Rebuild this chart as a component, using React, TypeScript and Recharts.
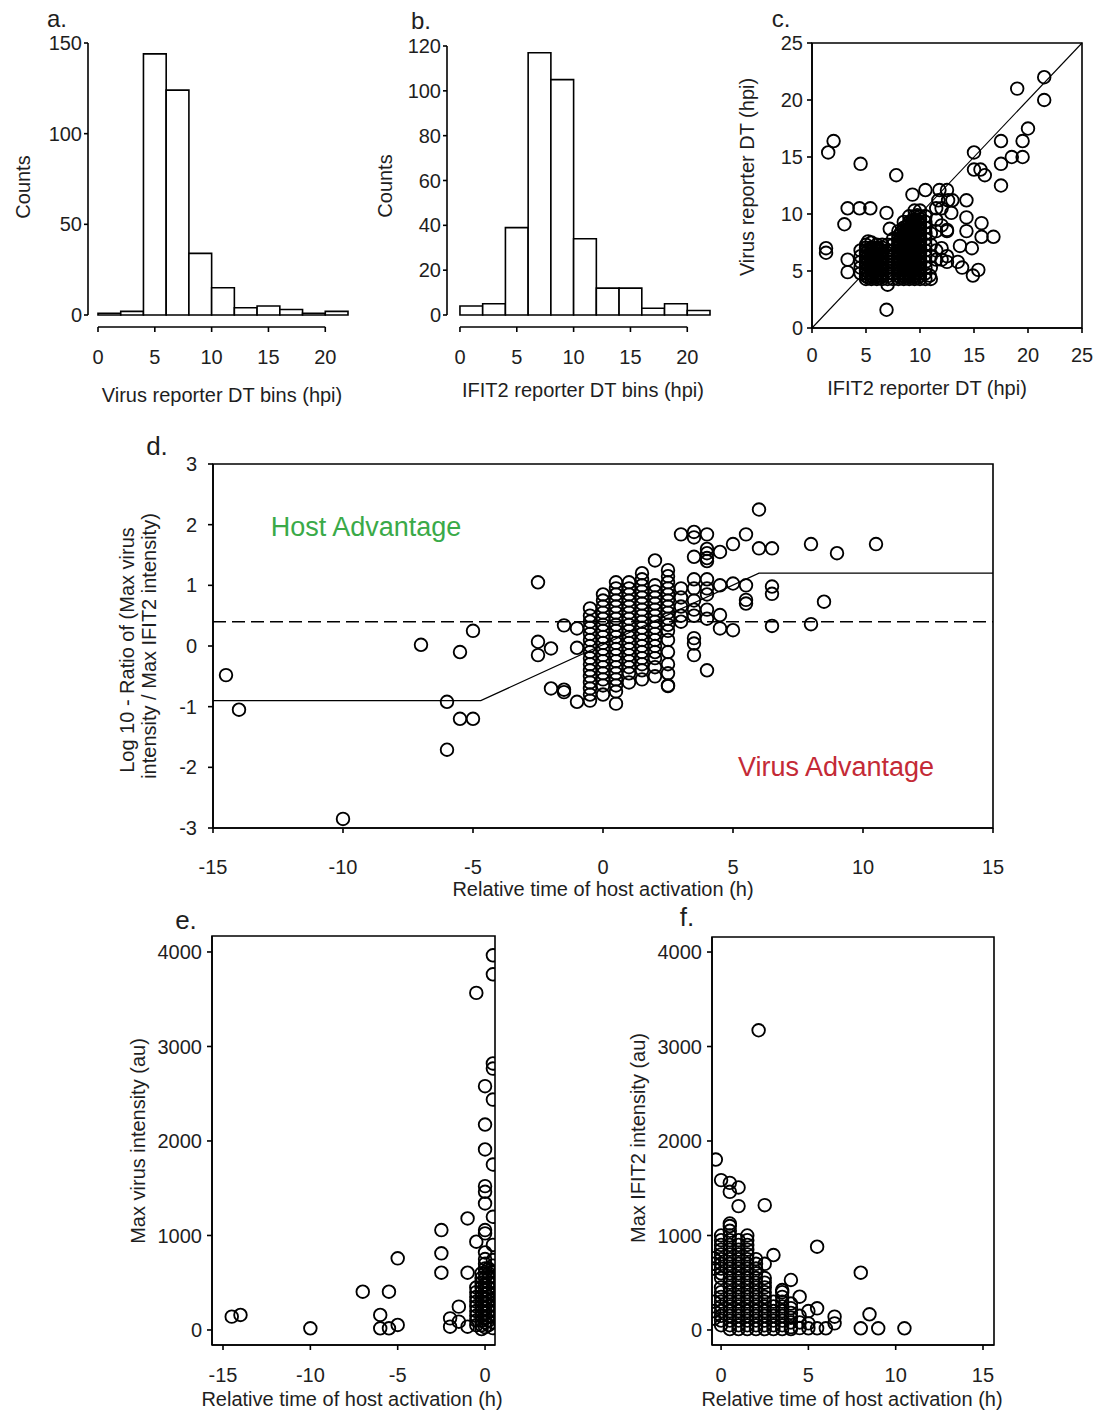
import React from 'react';
import {
  ComposedChart,
  Scatter,
  Line,
  XAxis,
  YAxis,
  ReferenceArea,
  ReferenceLine,
} from 'recharts';

const FONT = '"Liberation Sans", Arial, Helvetica, sans-serif';
const INK = '#1e1e1e';
const STROKE = 1.6;

// ---------- a / b : detection-time histograms (2 h bins) ----------
const binStarts = [0, 2, 4, 6, 8, 10, 12, 14, 16, 18, 20];
const BIN_W = 2;
const virusDtCounts = [1, 2, 144, 124, 34, 15, 4, 5, 3, 1, 2];
const ifit2DtCounts = [4, 5, 39, 117, 105, 34, 12, 12, 3, 5, 2];
const binTicks = [0, 5, 10, 15, 20];
const virusCountTicks = [0, 50, 100, 150];
const ifit2CountTicks = [0, 20, 40, 60, 80, 100, 120];

// ---------- c : virus DT vs IFIT2 DT ----------
const dtTicks = [0, 5, 10, 15, 20, 25];
const dtOutliers: [number, number][] = [
  [1.3, 7.0], [1.3, 6.6], [1.5, 15.4], [2, 16.4], [3, 9.1], [3.3, 10.5], [4.4, 10.5],
  [5.4, 10.5], [3.3, 6], [3.3, 4.9], [4.5, 14.4], [5.2, 7.6], [6.9, 10.1], [7.2, 8.7],
  [7.8, 13.4], [6.9, 1.6], [9.3, 11.7], [10.5, 12.1], [11.8, 12.1], [12.5, 12.1],
  [11.7, 11.2], [12.6, 11.2], [13, 11.2], [14.3, 11.2], [12.9, 10.1], [14.3, 9.7],
  [15.7, 9.2], [15.7, 8], [16.8, 8], [14.3, 8.5], [12.5, 8.6], [14.8, 7], [13.7, 7.2],
  [13.5, 5.8], [13.9, 5.3], [14.9, 4.6], [15.4, 5.1], [15, 15.4], [15, 13.9], [15.6, 13.9],
  [16, 13.4], [17.5, 16.4], [17.5, 14.4], [17.5, 12.5], [18.5, 15], [19.5, 15],
  [19.5, 16.4], [20, 17.5], [19, 21], [21.5, 22], [21.5, 20], [10.9, 4.6],
];
const dtCluster: [number, number[]][] = [
  [4.5, [4.8, 5.3, 5.8, 6.3, 6.8]],
  [5, [4.3, 4.55, 4.8, 5.05, 5.3, 5.55, 5.8, 6.05, 6.3, 6.55, 6.8, 7.05, 7.3]],
  [5.25, [4.4, 4.9, 5.4, 5.9, 6.4, 6.9]],
  [5.5, [4.3, 4.55, 4.8, 5.05, 5.3, 5.55, 5.8, 6.05, 6.3, 6.55, 6.8, 7.05, 7.5]],
  [5.75, [4.4, 4.9, 5.4, 5.9, 6.4, 6.9]],
  [6, [4.3, 4.55, 4.8, 5.05, 5.3, 5.55, 5.8, 6.05, 6.3, 6.55, 6.8, 7.05, 7.3]],
  [6.25, [4.4, 4.9, 5.4, 5.9, 6.4, 6.9]],
  [6.5, [4.3, 4.55, 4.8, 5.05, 5.3, 5.55, 5.8, 6.05, 6.3, 6.55, 6.8, 7.05, 7.3]],
  [7, [3.8, 4.3, 4.55, 4.8, 5.05, 5.3, 5.55, 5.8, 6.05, 6.3, 6.55, 6.8, 7.3]],
  [7.5, [4.3, 4.8, 5.3, 5.8, 6.3, 6.8, 7.3, 7.8]],
  [8, [4.3, 4.55, 4.8, 5.05, 5.3, 5.55, 5.8, 6.05, 6.3, 6.55, 6.8, 7.05, 7.3, 7.55, 7.8, 8.05, 8.5]],
  [8.25, [4.4, 4.9, 5.4, 5.9, 6.4, 6.9, 7.4, 7.9, 8.4]],
  [8.5, [4.3, 4.55, 4.8, 5.05, 5.3, 5.55, 5.8, 6.05, 6.3, 6.55, 6.8, 7.05, 7.3, 7.55, 7.8, 8.05, 8.3, 8.55, 8.8, 9.3]],
  [8.75, [4.4, 4.9, 5.4, 5.9, 6.4, 6.9, 7.4, 7.9, 8.4, 8.9]],
  [9, [4.3, 4.55, 4.8, 5.05, 5.3, 5.55, 5.8, 6.05, 6.3, 6.55, 6.8, 7.05, 7.3, 7.55, 7.8, 8.05, 8.3, 8.55, 8.8, 9.05, 9.3, 9.8]],
  [9.25, [4.4, 4.9, 5.4, 5.9, 6.4, 6.9, 7.4, 7.9, 8.4, 8.9, 9.4]],
  [9.5, [4.3, 4.55, 4.8, 5.05, 5.3, 5.55, 5.8, 6.05, 6.3, 6.55, 6.8, 7.05, 7.3, 7.55, 7.8, 8.05, 8.3, 8.55, 8.8, 9.05, 9.3, 9.55, 9.8, 10.3]],
  [9.75, [4.4, 4.9, 5.4, 5.9, 6.4, 6.9, 7.4, 7.9, 8.4, 8.9, 9.4, 9.9]],
  [10, [4.3, 4.55, 4.8, 5.05, 5.3, 5.55, 5.8, 6.05, 6.3, 6.55, 6.8, 7.05, 7.3, 7.55, 7.8, 8.05, 8.3, 8.55, 8.8, 9.05, 9.3, 9.55, 9.8, 10.3]],
  [10.5, [4.3, 4.8, 5.3, 5.8, 6.3, 6.8, 7.3, 7.8, 8.3, 8.8, 9.3, 9.8]],
  [11, [4.3, 5.3, 6.3, 7.3, 8.3]],
  [11.5, [6, 6.8, 8.5, 9.5, 10.5]],
  [12, [6, 7, 9, 10.5]],
  [12.5, [5.8, 6.3, 8.5]],
];

// ---------- d : log ratio vs relative host activation time ----------
const relTimeTicks = [-15, -10, -5, 0, 5, 10, 15];
const ratioTicks = [-3, -2, -1, 0, 1, 2, 3];
const ratioOutliers: [number, number][] = [
  [-14.5, -0.48], [-14, -1.05], [-10, -2.85], [-7, 0.02], [-6, -0.92], [-6, -1.71],
  [-5.5, -0.1], [-5.5, -1.2], [-5, -1.2], [-5, 0.25], [-2.5, 1.05], [-2.5, 0.07],
  [-2.5, -0.15], [-2, -0.04], [-2, -0.7], [-1.5, -0.76], [-1.5, -0.72], [-1.5, 0.34],
  [-1, 0.29], [-1, -0.03], [-1, -0.92], [6, 2.25], [3, 1.84], [3.5, 1.88], [3.5, 1.79],
  [4, 1.84], [5.5, 1.84], [5, 1.68], [4.5, 1.55], [4, 1.6], [4, 1.53], [4, 1.45], [4, 1.4],
  [3.5, 1.47], [6, 1.61], [6.5, 1.61], [8, 1.68], [9, 1.53], [10.5, 1.68], [2, 1.41],
  [6.5, 0.98], [6.5, 0.86], [5.5, 0.76], [5.5, 0.7], [8.5, 0.73], [6.5, 0.33], [8, 0.36],
  [5, 1.03], [5.5, 1.0], [4.5, 1.0], [4.5, 0.51], [4.5, 0.29], [5, 0.26], [3.5, 0.13],
  [3.5, 0.04], [3.5, -0.15], [4, -0.4], [2.5, -0.66],
];
const ratioCluster: [number, number[]][] = [
  [-0.5, [0.62, 0.5, 0.4, 0.3, 0.2, 0.1, 0, -0.1, -0.2, -0.3, -0.4, -0.5, -0.6, -0.7, -0.8, -0.9]],
  [0, [0.85, 0.75, 0.65, 0.55, 0.45, 0.35, 0.25, 0.15, 0.05, -0.05, -0.15, -0.25, -0.35, -0.45, -0.55, -0.65, -0.8]],
  [0.5, [1.05, 0.95, 0.85, 0.75, 0.65, 0.55, 0.45, 0.35, 0.25, 0.15, 0.05, -0.05, -0.15, -0.25, -0.35, -0.45, -0.55, -0.65, -0.75, -0.95]],
  [1, [1.05, 0.95, 0.85, 0.75, 0.65, 0.55, 0.45, 0.35, 0.25, 0.15, 0.05, -0.05, -0.15, -0.25, -0.35, -0.45, -0.6]],
  [1.5, [1.2, 1.1, 1.0, 0.9, 0.8, 0.7, 0.6, 0.5, 0.4, 0.3, 0.2, 0.1, 0, -0.1, -0.2, -0.3, -0.4, -0.55]],
  [2, [1.0, 0.9, 0.8, 0.7, 0.6, 0.5, 0.4, 0.3, 0.2, 0.1, 0, -0.1, -0.2, -0.35, -0.5]],
  [2.5, [1.25, 1.15, 1.05, 0.95, 0.85, 0.75, 0.65, 0.55, 0.45, 0.35, 0.25, 0.1, -0.1, -0.3, -0.45, -0.65]],
  [3, [0.95, 0.8, 0.65, 0.5, 0.4]],
  [3.5, [1.1, 0.95, 0.75, 0.6, 0.5]],
  [4, [1.1, 0.95, 0.85, 0.6, 0.45]],
];
const fitX = [-15, -4.7, 6, 15];
const fitY = [-0.9, -0.9, 1.2, 1.2];
const ADVANTAGE_CUTOFF = 0.4;

// ---------- e / f : max intensities vs relative time ----------
const virusTimeTicks = [-15, -10, -5, 0];
const ifitTimeTicks = [0, 5, 10, 15];
const intensityTicks = [0, 1000, 2000, 3000, 4000];
const virusMaxOutliers: [number, number][] = [
  [-14.5, 141], [-14, 159], [-10, 18], [-7, 405], [-6, 159], [-6, 18], [-5.5, 405],
  [-5.5, 18], [-5, 758], [-5, 53], [-2.5, 1057], [-2.5, 811], [-2.5, 606], [-2, 123],
  [-2, 35], [-1.5, 247], [-1.5, 88], [-1, 1180], [-1, 606], [-1, 35], [-0.5, 3567],
  [-0.5, 934], [0, 2580], [0, 2174], [0, 1910], [0, 1522], [0, 1462], [0, 1339],
  [0, 1057], [0, 1022], [0.45, 3965], [0.45, 3764], [0.45, 2820], [0.45, 2766],
  [0.45, 2438], [0.45, 1751], [0.45, 1198], [0.45, 900],
];
const virusMaxCluster: [number, number[]][] = [
  [-0.5, [450, 400, 350, 300, 250, 200, 150, 100, 50]],
  [-0.2, [600, 550, 500, 450, 400, 350, 300, 250, 200, 150, 100, 50, 10]],
  [0, [820, 750, 700, 650, 600, 550, 480, 430, 380, 330, 280, 230, 180, 130, 80, 30]],
  [0.2, [650, 600, 550, 500, 450, 400, 350, 300, 250, 200, 150, 100, 50]],
  [0.45, [740, 680, 620, 560, 500, 440, 380, 320, 260, 200, 140, 80, 20]],
];
const ifitMaxOutliers: [number, number][] = [
  [2.15, 3172], [-0.3, 1804], [0, 1586], [0.5, 1557], [0.5, 1462], [1, 1508], [1, 1311],
  [2.5, 1321], [0.5, 1127], [5.5, 881], [3, 793], [8, 606], [4, 529], [4.5, 352],
  [5.5, 229], [3.5, 423], [6.5, 141], [6.5, 70], [8, 18], [8.5, 166], [9, 18], [10.5, 18],
  [5, 70], [5, 18], [5.5, 18], [6, 18], [5, 200],
];
const ifitMaxCluster: [number, number[]][] = [
  [-0.4, [760, 700, 650, 300, 200, 120]],
  [0, [1000, 950, 900, 850, 800, 750, 700, 650, 600, 550, 450, 400, 350, 300, 250, 200, 150, 100, 50]],
  [0.5, [1100, 1050, 1000, 950, 900, 850, 800, 750, 700, 650, 600, 550, 500, 450, 400, 350, 300, 250, 200, 150, 100, 50, 10]],
  [1, [950, 900, 850, 800, 750, 700, 650, 600, 550, 500, 450, 400, 350, 300, 250, 200, 150, 100, 50, 10]],
  [1.5, [1000, 950, 900, 850, 800, 750, 700, 650, 600, 550, 500, 450, 400, 350, 300, 250, 200, 150, 100, 50, 10]],
  [2, [750, 700, 650, 600, 550, 500, 450, 400, 350, 300, 250, 200, 150, 100, 50, 10]],
  [2.5, [700, 550, 500, 450, 400, 350, 300, 250, 200, 150, 100, 50, 10]],
  [3, [300, 250, 200, 150, 100, 50, 10]],
  [3.5, [400, 350, 300, 250, 200, 150, 100, 50, 10]],
  [4, [280, 230, 180, 130, 80, 30, 10]],
  [4.5, [150, 80, 20]],
];

type Pt = { x: number; y: number };
const toPoints = (pairs: [number, number][], cols: [number, number[]][]): Pt[] => [
  ...pairs.map(([x, y]) => ({ x, y })),
  ...cols.flatMap(([x, ys]) => ys.map((y) => ({ x, y }))),
];

const dtPoints = toPoints(dtOutliers, dtCluster);
const ratioPoints = toPoints(ratioOutliers, ratioCluster);
const virusMaxPoints = toPoints(virusMaxOutliers, virusMaxCluster);
const ifitMaxPoints = toPoints(ifitMaxOutliers, ifitMaxCluster);
const fitLine = fitX.map((x, i) => ({ x, y: fitY[i] }));

// ---------- layout ----------
type Box = { x0: number; y0: number; x1: number; y1: number };
const PAD_L = 90;
const PAD_T = 16;
const PAD_B = 70;
const AXIS_GAP = 12; // histogram x axis sits below the bars

const tickFont = { fontSize: 20, fill: INK, fontFamily: FONT };

const Ring = (p: any) => (
  <circle cx={p.cx} cy={p.cy} r={6.3} fill="none" stroke="#000" strokeWidth={1.85} />
);
const NoMark = () => <g />;

function OffsetTick(props: any) {
  const { x, y, payload } = props;
  return (
    <g>
      <line x1={x} x2={x} y1={y + AXIS_GAP} y2={y + AXIS_GAP + 5} stroke="#000" strokeWidth={STROKE} />
      <text x={x} y={y + AXIS_GAP + 37} textAnchor="middle" {...tickFont}>
        {payload.value}
      </text>
    </g>
  );
}

function Histogram({ box, counts, yTicks, xMin }: { box: Box; counts: number[]; yTicks: number[]; xMin: number }) {
  const padR = 16;
  const yMax = yTicks[yTicks.length - 1];
  const gapY = (-AXIS_GAP * yMax) / (box.y1 - box.y0);
  const bins = binStarts.map((lo, i) => ({ x: lo + BIN_W / 2, y: counts[i], lo, hi: lo + BIN_W }));
  return (
    <div style={{ position: 'absolute', left: box.x0 - PAD_L, top: box.y0 - PAD_T }}>
      <ComposedChart
        width={box.x1 - box.x0 + PAD_L + padR}
        height={box.y1 - box.y0 + PAD_T + PAD_B}
        margin={{ top: PAD_T, right: padR, bottom: 0, left: 0 }}
      >
        <XAxis
          type="number"
          dataKey="x"
          domain={[xMin, binStarts[binStarts.length - 1] + BIN_W]}
          allowDataOverflow
          ticks={binTicks}
          axisLine={false}
          tickLine={false}
          tickSize={0}
          tickMargin={0}
          tick={OffsetTick}
          height={PAD_B}
        />
        <YAxis
          type="number"
          dataKey="y"
          domain={[0, yMax]}
          allowDataOverflow
          ticks={yTicks}
          width={PAD_L}
          tick={tickFont}
          tickSize={4}
          tickMargin={2}
          axisLine={{ stroke: '#000', strokeWidth: STROKE }}
          tickLine={{ stroke: '#000', strokeWidth: STROKE }}
        />
        {bins.map((b) => (
          <ReferenceArea
            key={b.lo}
            x1={b.lo}
            x2={b.hi}
            y1={0}
            y2={b.y}
            fill="#fff"
            fillOpacity={1}
            stroke="#000"
            strokeWidth={STROKE}
            ifOverflow="visible"
          />
        ))}
        <ReferenceLine
          segment={[
            { x: binTicks[0], y: gapY },
            { x: binTicks[binTicks.length - 1], y: gapY },
          ]}
          stroke="#000"
          strokeWidth={STROKE}
          ifOverflow="visible"
        />
        <Scatter data={bins} shape={NoMark} isAnimationActive={false} />
      </ComposedChart>
    </div>
  );
}

type ScatterPanelProps = {
  box: Box;
  points: Pt[];
  xDomain: [number, number];
  yDomain: [number, number];
  xTicks: number[];
  yTicks: number[];
  xTickMargin: number;
  yTickMargin: number;
  padR?: number;
  children?: React.ReactNode;
};

function ScatterPanel({
  box, points, xDomain, yDomain, xTicks, yTicks, xTickMargin, yTickMargin, padR = 16, children,
}: ScatterPanelProps) {
  return (
    <div style={{ position: 'absolute', left: box.x0 - PAD_L, top: box.y0 - PAD_T }}>
      <ComposedChart
        width={box.x1 - box.x0 + PAD_L + padR}
        height={box.y1 - box.y0 + PAD_T + PAD_B}
        margin={{ top: PAD_T, right: padR, bottom: 0, left: 0 }}
      >
        <XAxis
          type="number"
          dataKey="x"
          domain={xDomain}
          allowDataOverflow
          ticks={xTicks}
          height={PAD_B}
          tick={tickFont}
          tickSize={5}
          tickMargin={xTickMargin}
          axisLine={{ stroke: '#000', strokeWidth: STROKE }}
          tickLine={{ stroke: '#000', strokeWidth: STROKE }}
        />
        <YAxis
          type="number"
          dataKey="y"
          domain={yDomain}
          allowDataOverflow
          ticks={yTicks}
          width={PAD_L}
          tick={tickFont}
          tickSize={5}
          tickMargin={yTickMargin}
          axisLine={{ stroke: '#000', strokeWidth: STROKE }}
          tickLine={{ stroke: '#000', strokeWidth: STROKE }}
        />
        <ReferenceArea
          x1={xDomain[0]}
          x2={xDomain[1]}
          y1={yDomain[0]}
          y2={yDomain[1]}
          fill="none"
          stroke="#000"
          strokeWidth={STROKE}
        />
        {children}
        <Scatter data={points} shape={Ring} isAnimationActive={false} />
      </ComposedChart>
    </div>
  );
}

function Title({ x, y, text, rotate = false, size = 20, color = INK }: { x: number; y: number; text: string; rotate?: boolean; size?: number; color?: string }) {
  return (
    <div
      style={{
        position: 'absolute',
        left: x,
        top: y,
        transform: `translate(-50%, -50%)${rotate ? ' rotate(-90deg)' : ''}`,
        whiteSpace: 'nowrap',
        fontSize: size,
        color,
        fontFamily: FONT,
        lineHeight: 1,
      }}
    >
      {text}
    </div>
  );
}

export default function App() {
  return (
    <div
      style={{
        position: 'absolute',
        left: 0,
        top: 0,
        width: 1094,
        height: 1420,
        overflow: 'hidden',
        background: '#fff',
        fontFamily: FONT,
      }}
    >
      <Histogram box={{ x0: 88, y0: 43, x1: 348, y1: 315 }} counts={virusDtCounts} yTicks={virusCountTicks} xMin={-0.88} />
      <Histogram box={{ x0: 447, y0: 46, x1: 710, y1: 315 }} counts={ifit2DtCounts} yTicks={ifit2CountTicks} xMin={-1.14} />

      <ScatterPanel
        box={{ x0: 812, y0: 43, x1: 1082, y1: 328 }}
        points={dtPoints}
        xDomain={[0, 25]}
        yDomain={[0, 25]}
        xTicks={dtTicks}
        yTicks={dtTicks}
        xTickMargin={15}
        yTickMargin={4}
        padR={12}
      >
        <ReferenceLine
          segment={[
            { x: 0, y: 0 },
            { x: 25, y: 25 },
          ]}
          stroke="#000"
          strokeWidth={1.1}
        />
      </ScatterPanel>

      <ScatterPanel
        box={{ x0: 213, y0: 464, x1: 993, y1: 828 }}
        points={ratioPoints}
        xDomain={[-15, 15]}
        yDomain={[-3, 3]}
        xTicks={relTimeTicks}
        yTicks={ratioTicks}
        xTickMargin={27}
        yTickMargin={11}
      >
        <ReferenceLine y={ADVANTAGE_CUTOFF} stroke="#000" strokeWidth={STROKE} strokeDasharray="13 6" />
        <Line
          data={fitLine}
          dataKey="y"
          stroke="#000"
          strokeWidth={1.2}
          dot={false}
          isAnimationActive={false}
        />
      </ScatterPanel>

      <ScatterPanel
        box={{ x0: 212, y0: 936, x1: 495, y1: 1345 }}
        points={virusMaxPoints}
        xDomain={[-15.63, 0.57]}
        yDomain={[-159, 4169]}
        xTicks={virusTimeTicks}
        yTicks={intensityTicks}
        xTickMargin={18}
        yTickMargin={5}
      />

      <ScatterPanel
        box={{ x0: 712, y0: 937, x1: 994, y1: 1345 }}
        points={ifitMaxPoints}
        xDomain={[-0.52, 15.63]}
        yDomain={[-159, 4159]}
        xTicks={ifitTimeTicks}
        yTicks={intensityTicks}
        xTickMargin={18}
        yTickMargin={5}
      />

      {/* panel letters */}
      <Title x={57} y={19} text="a." size={24} />
      <Title x={421} y={21} text="b." size={24} />
      <Title x={781} y={19} text="c." size={24} />
      <Title x={157} y={446} text="d." size={26} />
      <Title x={186} y={920} text="e." size={26} />
      <Title x={687} y={917} text="f." size={26} />

      {/* axis titles */}
      <Title x={23} y={187} text="Counts" rotate />
      <Title x={222} y={395} text="Virus reporter DT bins (hpi)" />
      <Title x={385} y={186} text="Counts" rotate />
      <Title x={583} y={390} text="IFIT2 reporter DT bins (hpi)" />
      <Title x={747} y={177} text="Virus reporter DT (hpi)" rotate />
      <Title x={927} y={388} text="IFIT2 reporter DT (hpi)" />
      <Title x={127} y={650} text="Log 10 - Ratio of (Max virus" rotate />
      <Title x={149} y={646} text="intensity / Max IFIT2 intensity)" rotate />
      <Title x={603} y={889} text="Relative time of host activation (h)" />
      <Title x={138} y={1141} text="Max virus intensity (au)" rotate />
      <Title x={352} y={1399} text="Relative time of host activation (h)" />
      <Title x={638} y={1138} text="Max IFIT2 intensity (au)" rotate />
      <Title x={852} y={1399} text="Relative time of host activation (h)" />

      {/* region annotations in d */}
      <Title x={366} y={527} text="Host Advantage" size={27} color="#3aaa48" />
      <Title x={836} y={767} text="Virus Advantage" size={27} color="#c42a36" />
    </div>
  );
}
